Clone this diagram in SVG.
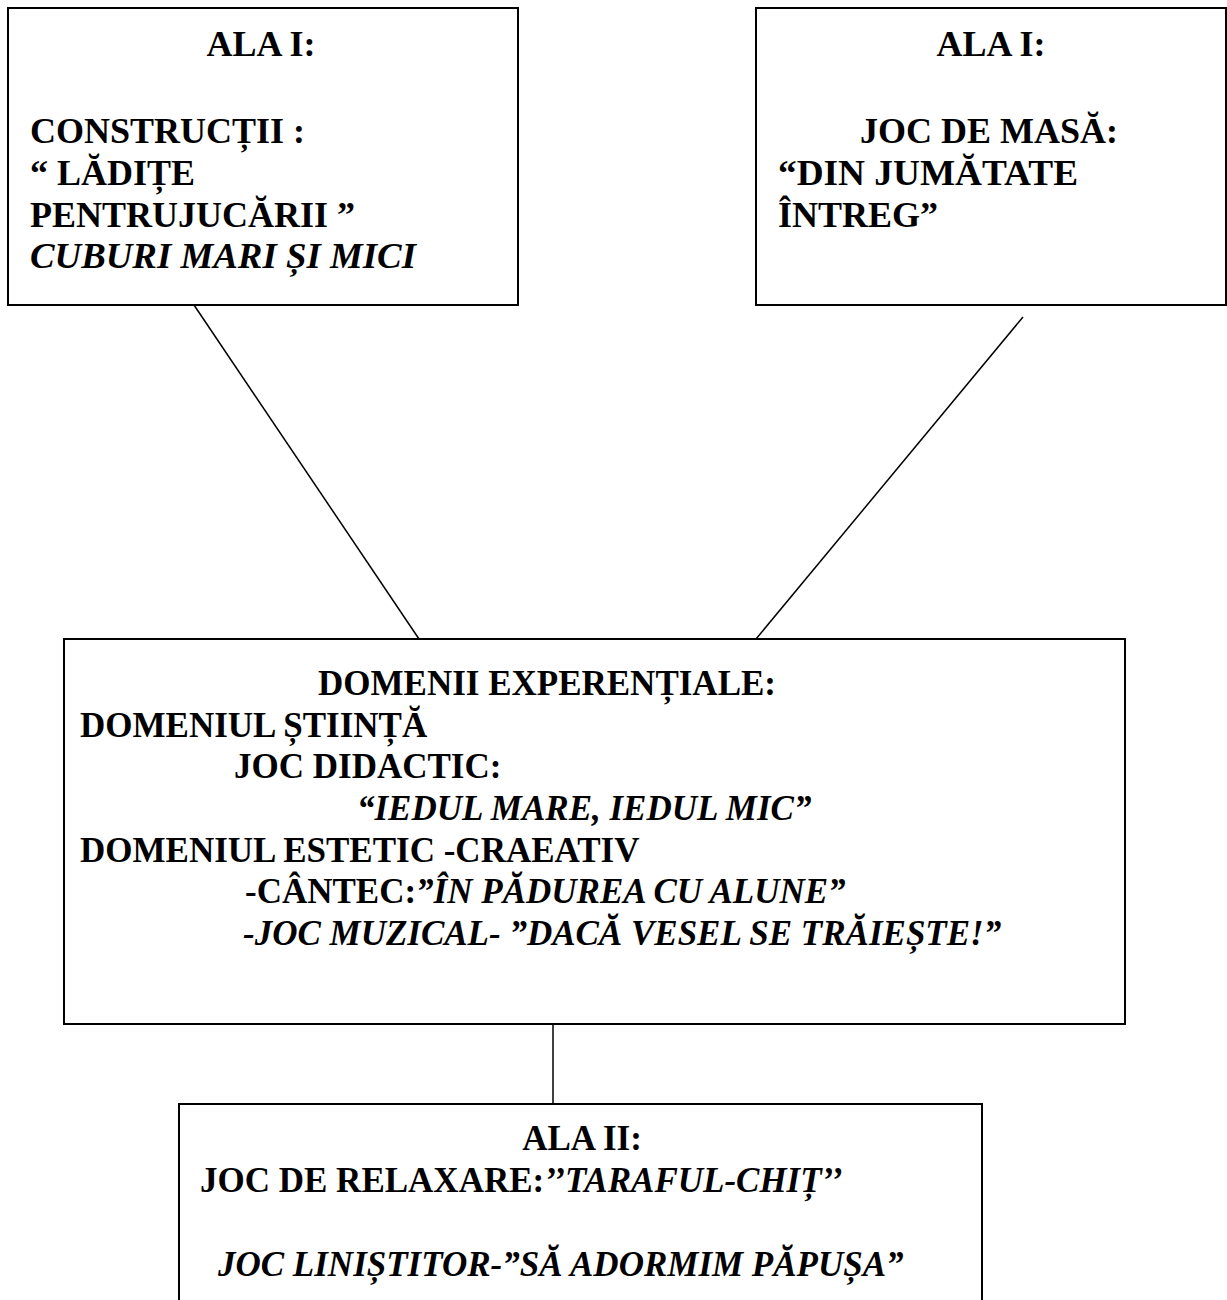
<svg xmlns="http://www.w3.org/2000/svg" width="1227" height="1300" viewBox="0 0 1227 1300">
<style>
.box{fill:#fff;stroke:#000;stroke-width:2}
.t{font-family:"Liberation Serif","Times New Roman",serif;font-size:35px;font-weight:bold;fill:#000}
.b{font-size:36px}
.i{font-style:italic}
.c{text-anchor:middle}
.ln{stroke:#000;stroke-width:1.5;fill:none}
</style>
<rect width="1227" height="1300" fill="#fff"/>
<g id="connectors">
<line class="ln" x1="194" y1="305" x2="419" y2="639"/>
<line class="ln" x1="1023" y1="317" x2="756" y2="639"/>
<line class="ln" x1="553" y1="1024" x2="553" y2="1104"/>
</g>
<g id="node-ala1-constructii">
<rect class="box" x="8" y="8" width="510" height="297"/>
<text class="t b c" x="261" y="56">ALA I:</text>
<text class="t b" x="30" y="143">CONSTRUCȚII :</text>
<text class="t b" x="30" y="185">“ LĂDIȚE</text>
<text class="t b" x="30" y="227">PENTRUJUCĂRII ”</text>
<text class="t b i" x="30" y="268" textLength="386" lengthAdjust="spacingAndGlyphs">CUBURI MARI ȘI MICI</text>
</g>
<g id="node-ala1-joc-masa">
<rect class="box" x="756" y="8" width="470" height="297"/>
<text class="t b c" x="991" y="56">ALA I:</text>
<text class="t b" x="860" y="143">JOC DE MASĂ:</text>
<text class="t b" x="778" y="185" textLength="300" lengthAdjust="spacingAndGlyphs">“DIN JUMĂTATE</text>
<text class="t b" x="778" y="227">ÎNTREG”</text>
</g>
<g id="node-domenii">
<rect class="box" x="64" y="639" width="1061" height="385"/>
<text class="t" x="318" y="695">DOMENII EXPERENȚIALE:</text>
<text class="t" x="80" y="737">DOMENIUL ȘTIINȚĂ</text>
<text class="t" x="234" y="778">JOC DIDACTIC:</text>
<text class="t i" x="357" y="820">“IEDUL MARE, IEDUL MIC”</text>
<text class="t" x="80" y="862">DOMENIUL ESTETIC -CRAEATIV</text>
<text class="t" x="245" y="903">-CÂNTEC:<tspan class="i">”ÎN PĂDUREA CU ALUNE”</tspan></text>
<text class="t i" x="243" y="945">-JOC MUZICAL- ”DACĂ VESEL SE TRĂIEȘTE!”</text>
</g>
<g id="node-ala2">
<rect class="box" x="179" y="1104" width="803" height="210"/>
<text class="t c" x="582" y="1150">ALA II:</text>
<text class="t" x="200" y="1192">JOC DE RELAXARE:<tspan class="i">’’TARAFUL-CHIȚ’’</tspan></text>
<text class="t i" x="218" y="1276">JOC LINIȘTITOR-”SĂ ADORMIM PĂPUȘA”</text>
</g>
</svg>
